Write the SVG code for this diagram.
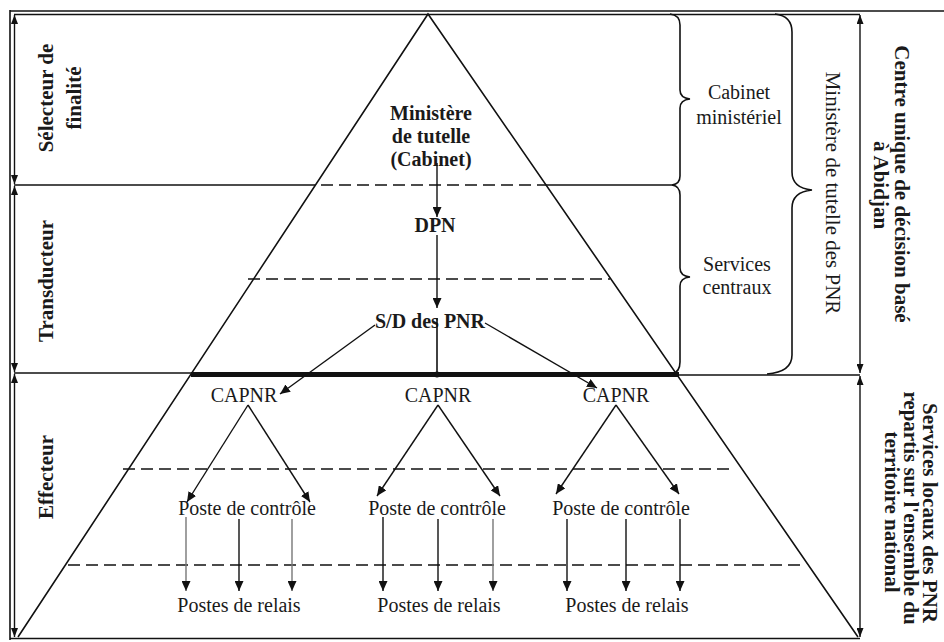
<svg xmlns="http://www.w3.org/2000/svg" width="944" height="642" viewBox="0 0 944 642">
<defs>
<marker id="ah" markerUnits="userSpaceOnUse" markerWidth="10" markerHeight="9" refX="10" refY="4.5" orient="auto"><path d="M0,0 L10,4.5 L0,9 z" fill="#111"/></marker>
<marker id="sa" markerUnits="userSpaceOnUse" markerWidth="9" markerHeight="7" refX="9" refY="3.5" orient="auto-start-reverse"><path d="M0,0 L9,3.5 L0,7 z" fill="#111"/></marker>
<style>
.t{font-family:"Liberation Serif","Times New Roman",serif;font-size:20px;fill:#1a1a1a;text-anchor:middle}
.b{font-weight:bold}
.l{font-size:21px}
.ln{stroke:#111;stroke-width:1.6;fill:none}
.d{stroke:#111;stroke-width:1.4;stroke-dasharray:12 6;fill:none}
.c{stroke:#111;stroke-width:1.4;fill:none;marker-end:url(#ah)}
.g{stroke:#777}
.sa{stroke:#111;stroke-width:1.4;fill:none;marker-start:url(#sa);marker-end:url(#sa)}
</style>
</defs>
<rect width="944" height="642" fill="#fff"/>
<g id="frame">
<line class="ln" x1="10" y1="11" x2="944" y2="11" stroke-width="2.2"/>
<line class="ln" x1="14" y1="14.5" x2="860" y2="14.5" stroke-width="1.2"/>
<line class="ln" x1="10" y1="10" x2="10" y2="640" stroke-width="2.2"/>
<line class="ln" x1="10" y1="638.5" x2="860" y2="638.5" stroke-width="2.2"/>
<line class="sa" x1="14.5" y1="15" x2="14.5" y2="184"/>
<line class="sa" x1="14.5" y1="186" x2="14.5" y2="372"/>
<line class="sa" x1="14.5" y1="374" x2="14.5" y2="637"/>
<line class="sa" x1="860" y1="15" x2="860" y2="373"/>
<line class="sa" x1="860" y1="376" x2="860" y2="637"/>
<line class="ln" x1="14" y1="185" x2="303" y2="185"/>
<line class="ln" x1="547" y1="185" x2="672" y2="185"/>
<line class="ln" x1="14" y1="373" x2="193" y2="373" stroke="#999"/>
<line class="ln" x1="678" y1="375" x2="860" y2="375"/>
</g>
<g id="pyramid">
<polyline class="ln" points="18,637 428,14 858,637"/>
<line x1="191" y1="374.5" x2="679" y2="374.5" stroke="#111" stroke-width="5"/>
<line class="d" x1="303" y1="185" x2="547" y2="185"/>
<line class="d" x1="248" y1="279" x2="610" y2="279"/>
<line class="d" x1="123" y1="469" x2="733" y2="469"/>
<line class="d" x1="68" y1="565" x2="805" y2="565"/>
</g>
<g id="braces">
<path class="ln" stroke-width="1.3" d="M670,14 Q680,15 680,25 L680,90 Q680,98 690,99 Q680,100 680,108 L680,176 Q680,184 672,185"/>
<path class="ln" stroke-width="1.3" d="M672,185 Q680,186 680,195 L680,268 Q680,276 690,277 Q680,278 680,286 L680,362 Q680,372 672,374"/>
<path class="ln" stroke-width="1.3" d="M775,14 Q792,16 792,32 L792,172 Q792,188 812,190 Q792,192 792,208 L792,355 Q792,372 767,374"/>
</g>
<g id="labels-left">
<text class="t b l" transform="translate(53,98) rotate(-90)">Sélecteur de</text>
<text class="t b l" transform="translate(81,98) rotate(-90)">finalité</text>
<text class="t b l" transform="translate(53,281) rotate(-90)">Transducteur</text>
<text class="t b l" transform="translate(53,477) rotate(-90)">Effecteur</text>
</g>
<g id="labels-right">
<text class="t" x="739" y="99">Cabinet</text>
<text class="t" x="739" y="124">ministériel</text>
<text class="t" x="737" y="271">Services</text>
<text class="t" x="737" y="294">centraux</text>
<text class="t l" transform="translate(826,193) rotate(90)">Ministère de tutelle des PNR</text>
<text class="t b l" transform="translate(895,184) rotate(90)">Centre unique de décision basé</text>
<text class="t b l" transform="translate(874,185) rotate(90)">à Abidjan</text>
<text class="t b l" transform="translate(923,513) rotate(90)">Services locaux des PNR</text>
<text class="t b l" transform="translate(904,508) rotate(90)">repartis  sur l'ensemble du</text>
<text class="t b l" transform="translate(885,512) rotate(90)">territoire national</text>
</g>
<g id="n-ministere">
<text class="t b" x="431" y="120">Ministère</text>
<text class="t b" x="431" y="143">de tutelle</text>
<text class="t b" x="431" y="166">(Cabinet)</text>
</g>
<g id="n-dpn"><text class="t b" x="435" y="232">DPN</text></g>
<g id="n-sd"><text class="t b" x="430" y="328">S/D des PNR</text></g>
<g id="n-capnr1"><text class="t" x="244" y="402">CAPNR</text></g>
<g id="n-capnr2"><text class="t" x="438" y="402">CAPNR</text></g>
<g id="n-capnr3"><text class="t" x="616" y="402">CAPNR</text></g>
<g id="n-poste1"><text class="t" x="247" y="515">Poste de contrôle</text></g>
<g id="n-poste2"><text class="t" x="437" y="515">Poste de contrôle</text></g>
<g id="n-poste3"><text class="t" x="621" y="515">Poste de contrôle</text></g>
<g id="n-relais1"><text class="t" x="239" y="612">Postes de relais</text></g>
<g id="n-relais2"><text class="t" x="439" y="612">Postes de relais</text></g>
<g id="n-relais3"><text class="t" x="627" y="612">Postes de relais</text></g>
<g id="connectors">
<line class="c" x1="437" y1="163" x2="437" y2="217"/>
<line class="c" x1="437" y1="235" x2="437" y2="308"/>
<line class="ln" stroke-width="1.4" x1="437" y1="318" x2="437" y2="374"/>
<circle cx="437" cy="374.5" r="3" fill="#111"/>
<line class="c" x1="375" y1="325" x2="280" y2="394"/>
<line class="c" x1="485" y1="323" x2="597" y2="388"/>
<line class="c" x1="248" y1="405" x2="187" y2="502"/>
<line class="c" x1="248" y1="405" x2="310" y2="502"/>
<line class="c" x1="438" y1="405" x2="377" y2="496"/>
<line class="c" x1="438" y1="405" x2="500" y2="496"/>
<line class="c" x1="616" y1="405" x2="556" y2="494"/>
<line class="c" x1="616" y1="405" x2="679" y2="494"/>
<line class="c g" x1="186" y1="517" x2="186" y2="591"/>
<line class="c" x1="239" y1="519" x2="239" y2="591"/>
<line class="c g" x1="292" y1="519" x2="292" y2="591"/>
<line class="c" x1="383" y1="517" x2="383" y2="591"/>
<line class="c" x1="438" y1="519" x2="438" y2="591"/>
<line class="c g" x1="493" y1="519" x2="493" y2="591"/>
<line class="c" x1="567" y1="519" x2="567" y2="591"/>
<line class="c" x1="626" y1="519" x2="626" y2="591"/>
<line class="c" x1="680" y1="519" x2="680" y2="591"/>
</g>
</svg>
